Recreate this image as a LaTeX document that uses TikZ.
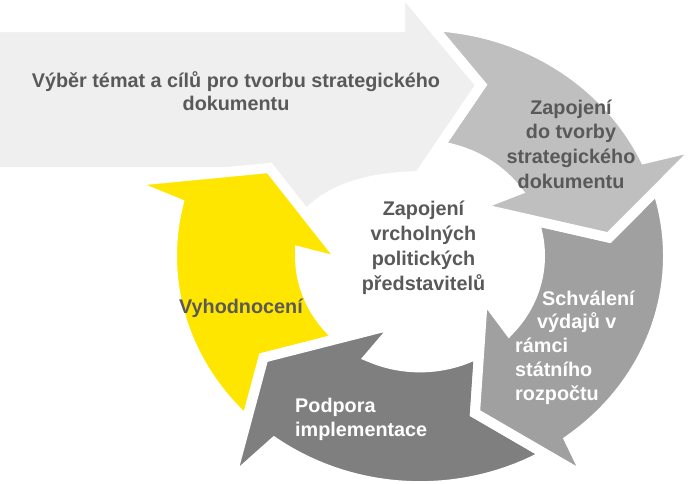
\documentclass[tikz,border=0pt]{standalone}
\usepackage{fontspec}
\setmainfont{Liberation Sans}
\definecolor{cL}{HTML}{EFEFEF}
\definecolor{cLM}{HTML}{BFBFBF}
\definecolor{cS}{HTML}{A0A0A0}
\definecolor{cD}{HTML}{7F7F7F}
\definecolor{cY}{HTML}{FFE600}
\definecolor{txt}{HTML}{595959}
\begin{document}
\begin{tikzpicture}[x=1pt,y=1pt,
  seg/.style={draw=white, line width=10pt, line join=miter},
  lbl/.style={inner sep=0pt, text=txt},
  fnt/.style={font=\fontsize{19.8}{#1}\selectfont\bfseries},
]
\useasboundingbox (0,0) rectangle (698,-483);
\fill[white] (0,0) rectangle (698,-483);
\begin{scope}
\clip (0,0) rectangle (698,-483);
\coordinate (Lof) at (400,12);
\coordinate (Ltip) at (481,-85);
\coordinate (Lif) at (419,-176);
% light grey straight arrow (first pass)
\filldraw[seg, fill=cL] (-10,-27) -- (400,-27) -- (Lof) -- (Ltip) -- (Lif)
   .. controls (390,-177) and (345,-180) .. (313,-208) -- (292,-230) -- (250,-190) -- (250,-172) -- (-10,-172) -- cycle;
\begin{scope}[shift={(420,-256)}, yscale=0.928]
 % yellow
 \filldraw[seg, fill=cY] (234:248) arc[start angle=234, end angle=166.8, radius=248]
   -- (164.8:305) -- (147.8:178) -- (185.8:76) -- (177.8:120)
   arc[start angle=177.8, end angle=245, radius=120]
   -- (253:76) -- (215:191) -- (232:308) -- cycle;
 % dark grey
 \filldraw[seg, fill=cD] (307:248) arc[start angle=307, end angle=234, radius=248]
   -- (232:308) -- (215:191) -- (253:76) -- (245:120)
   arc[start angle=245, end angle=318, radius=120]
   -- (326:76) -- (288:178) -- (305:293) -- cycle;
 % medium grey
 \filldraw[seg, fill=cS] (25:248) arc[start angle=25, end angle=-53, radius=248]
   -- (-55:293) -- (-72:178) -- (-34:76) -- (-42:120)
   arc[start angle=-42, end angle=36, radius=120]
   -- (44:76) -- (6:190) -- (23:305) -- cycle;
 % light-medium grey
 \filldraw[seg, fill=cLM] (94:248) arc[start angle=94, end angle=25, radius=248]
   -- (23:305) -- (6:190) -- (44:76) -- (36:120)
   arc[start angle=36, end angle=95, radius=120]
   -- (Lif) -- (Ltip) -- (Lof) -- cycle;
\end{scope}
% light grey arrow head on top
\begin{scope}
 \clip (385,20) rectangle (520,-200);
 \filldraw[seg, fill=cL] (-10,-27) -- (400,-27) -- (Lof) -- (Ltip) -- (Lif)
   .. controls (390,-177) and (345,-180) .. (313,-208) -- (292,-230) -- (250,-190) -- (250,-172) -- (-10,-172) -- cycle;
\end{scope}
\end{scope}
\node[lbl, fnt=23.4, align=center, anchor=base] (t1) at (236,-110.7) {Výběr témat a cílů pro tvorbu strategického\\dokumentu};
\node[lbl, fnt=24.8, align=center, anchor=base] (t2) at (571,-188.4) {Zapojení\\do tvorby\\strategického\\dokumentu};
\node[lbl, fnt=25, align=center, anchor=base] (t3) at (423.5,-290) {Zapojení\\vrcholných\\politických\\představitelů};
\node[lbl, fnt=23.8, align=left, anchor=base west, text=white] (t4) at (515,-400.2) {\hspace*{27pt}Schválení\\\hspace*{22pt}výdajů v\\rámci\\státního\\rozpočtu};
\node[lbl, fnt=24, align=left, anchor=base west, text=white] (t5) at (295,-436) {Podpora\\implementace};
\node[lbl, fnt=24, anchor=base] (t6) at (241,-313.5) {Vyhodnocení};
\end{tikzpicture}
\end{document}
